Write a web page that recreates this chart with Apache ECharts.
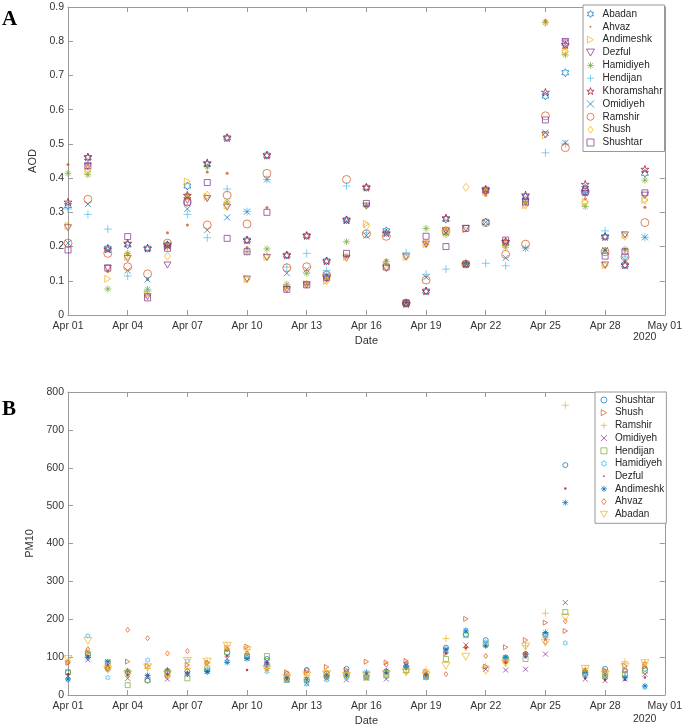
<!DOCTYPE html>
<html>
<head>
<meta charset="utf-8">
<script src="https://cdn.jsdelivr.net/npm/echarts@6/dist/echarts.min.js"></script>
<style>
  html, body { margin: 0; padding: 0; background: #fff; }
  #chart { width: 685px; height: 727px; }
</style>
</head>
<body>
<div id="chart"></div>
<script>
// day offsets from Apr 01 (x positions)
var days = [0,1,2,3,4,5,6,7,8,9,10,11,12,13,14,15,16,17,18,19,20,21,22,23,24,25,26,27,28,29];
var xTickLabels = ['Apr 01','Apr 04','Apr 07','Apr 10','Apr 13','Apr 16','Apr 19','Apr 22','Apr 25','Apr 28','May 01'];

// panel A - AOD
var aodAbadan      = [0.32,0.46,0.195,0.205,0.195,0.205,0.377,0.44,0.518,0.219,0.467,0.175,0.232,0.158,0.278,0.373,0.246,0.035,0.07,0.28,0.149,0.271,0.21,0.345,0.64,0.708,0.37,0.229,0.146,0.414];
var aodAhvaz       = [0.44,0.44,0.127,0.18,0.104,0.24,0.263,0.418,0.414,0.197,0.314,0.08,0.09,0.115,0.17,0.32,0.16,0.035,0.21,0.25,0.15,0.35,0.22,0.33,0.86,0.78,0.34,0.19,0.19,0.315];
var aodAndimeshk   = [0.26,0.42,0.106,0.17,0.06,0.2,0.39,0.345,0.32,0.105,0.17,0.08,0.09,0.1,0.17,0.266,0.145,0.17,0.207,0.246,0.25,0.36,0.21,0.321,0.525,0.77,0.33,0.146,0.234,0.336];
var aodDezful      = [0.255,0.435,0.137,0.165,0.054,0.146,0.335,0.34,0.315,0.105,0.168,0.075,0.088,0.105,0.166,0.318,0.136,0.17,0.207,0.246,0.253,0.36,0.21,0.33,0.526,0.799,0.355,0.146,0.234,0.35];
var aodHamidiyeh   = [0.414,0.41,0.076,0.18,0.075,0.2,0.35,0.433,0.33,0.185,0.193,0.09,0.122,0.11,0.214,0.32,0.156,0.035,0.253,0.235,0.149,0.365,0.198,0.33,0.855,0.76,0.317,0.188,0.192,0.394];
var aodHendijan    = [0.31,0.294,0.251,0.114,0.07,0.2,0.294,0.226,0.368,0.302,0.396,0.14,0.18,0.13,0.377,0.24,0.24,0.182,0.119,0.134,0.15,0.151,0.144,0.195,0.474,0.5,0.36,0.246,0.17,0.227];
var aodKhoramshahr = [0.33,0.462,0.193,0.21,0.195,0.205,0.35,0.445,0.518,0.219,0.467,0.175,0.232,0.158,0.278,0.373,0.24,0.033,0.07,0.284,0.149,0.368,0.215,0.351,0.651,0.79,0.382,0.229,0.146,0.426];
var aodOmidiyeh    = [0.21,0.324,0.19,0.13,0.104,0.2,0.31,0.248,0.285,0.302,0.396,0.122,0.133,0.117,0.275,0.232,0.24,0.035,0.11,0.24,0.149,0.271,0.167,0.195,0.533,0.503,0.355,0.19,0.16,0.227];
var aodRamshir     = [0.21,0.338,0.18,0.141,0.12,0.21,0.33,0.263,0.35,0.266,0.414,0.138,0.141,0.117,0.396,0.237,0.23,0.035,0.102,0.246,0.149,0.27,0.177,0.207,0.582,0.489,0.36,0.185,0.17,0.27];
var aodShush       = [0.26,0.425,0.137,0.17,0.06,0.172,0.34,0.35,0.32,0.105,0.17,0.08,0.09,0.1,0.17,0.26,0.14,0.17,0.207,0.245,0.373,0.36,0.21,0.321,0.855,0.77,0.33,0.146,0.23,0.336];
var aodShushtar    = [0.19,0.436,0.137,0.229,0.05,0.195,0.33,0.387,0.224,0.185,0.3,0.075,0.088,0.11,0.18,0.326,0.14,0.035,0.23,0.2,0.253,0.365,0.219,0.33,0.57,0.795,0.36,0.172,0.185,0.357];

// panel B - PM10
var pmShushtar  = [60,108,69,60,38,62,62,65,112,103,95,55,66,48,69,48,62,75,50,125,160,145,99,108,160,607,55,69,64,69];
var pmShush     = [85,112,73,88,77,52,79,85,123,128,82,60,60,74,66,88,86,90,62,110,201,75,126,145,191,169,62,65,77,75];
var pmRamshir   = [90,115,70,55,70,50,70,85,130,120,70,45,52,45,50,50,55,60,66,149,125,77,85,130,216,765,70,55,88,85];
var pmOmidiyeh  = [50,93,88,44,46,42,55,62,96,96,90,40,30,44,40,45,42,80,48,118,132,68,66,68,108,244,42,38,42,55];
var pmHendijan  = [60,105,85,26,40,58,44,70,112,102,103,40,40,55,55,46,52,65,48,95,158,135,95,95,158,219,58,49,55,64];
var pmHamidiyeh = [40,156,46,60,92,60,90,60,88,100,62,38,29,40,45,50,50,72,45,115,172,140,99,105,160,137,55,62,48,20];
var pmDezful    = [55,103,80,52,52,55,60,62,103,66,85,45,45,50,55,58,58,70,52,110,125,128,85,100,147,545,45,40,40,46];
var pmAndimeshk = [42,99,88,64,52,66,55,62,86,96,80,42,40,52,52,60,64,77,52,121,169,130,99,108,165,508,60,50,46,24];
var pmAhvaz     = [86,121,70,172,150,110,116,85,120,110,70,48,66,60,62,52,80,84,55,55,126,103,88,110,140,195,65,62,65,82];
var pmAbadan    = [95,143,67,55,73,55,90,88,130,118,69,44,52,55,50,52,55,60,52,77,101,64,84,128,138,205,69,55,75,84];

// matlab-like marker shapes
var SYM = {
    hex: 'path://M50,0L64.4,25L93.3,25L78.9,50L93.3,75L64.4,75L50,100L35.6,75L6.7,75L21.1,50L6.7,25L35.6,25Z',
    star: 'path://M50,0L61.2,34.5L97.6,34.5L68.2,55.9L79.4,90.5L50,69.1L20.6,90.5L31.8,55.9L2.4,34.5L38.8,34.5Z',
    tright: 'path://M0,0L87,50L0,100Z',
    tdown: 'path://M0,0L100,0L50,87Z',
    plus: 'path://M50,0L50,100M0,50L100,50',
    cross: 'path://M0,0L100,100M100,0L0,100',
    aster: 'path://M50,0L50,100M0,50L100,50M15,15L85,85M85,15L15,85',
    square: 'path://M0,0L100,0L100,100L0,100Z',
    diamond: 'path://M50,0L88,50L50,100L12,50Z',
    dotIcon: 'path://M0,0L0.01,0M100,100L100.01,100M50,36A14,14,0,1,1,50,64A14,14,0,1,1,50,36Z'
};
var C = ['#0072BD','#D95319','#EDB120','#7E2F8E','#77AC30','#4DBEEE','#A2142F'];
var PM = 'pm:';   // prefix keeps panel B legend entries apart from panel A

function mk(name, vals, sym, color, size, gi, filled) {
    return {
        name: name,
        type: 'scatter',
        xAxisIndex: gi * 2,
        yAxisIndex: gi * 2,
        data: days.map(function (d, i) { return [d, vals[i]]; }),
        symbol: sym,
        symbolSize: size,
        symbolKeepAspect: true,
        itemStyle: filled ? { color: color, borderWidth: 0 } :
            { color: 'rgba(0,0,0,0)', borderColor: color, borderWidth: 0.9 },
        emphasis: { disabled: true },
        silent: true
    };
}

var seriesA = [
    mk('Abadan', aodAbadan, SYM.hex, C[0], 8, 0),
    mk('Ahvaz', aodAhvaz, 'circle', C[1], 3, 0, true),
    mk('Andimeshk', aodAndimeshk, SYM.tright, C[2], 7, 0),
    mk('Dezful', aodDezful, SYM.tdown, C[3], 7, 0),
    mk('Hamidiyeh', aodHamidiyeh, SYM.aster, C[4], 7, 0),
    mk('Hendijan', aodHendijan, SYM.plus, C[5], 8, 0),
    mk('Khoramshahr', aodKhoramshahr, SYM.star, C[6], 8, 0),
    mk('Omidiyeh', aodOmidiyeh, SYM.cross, C[0], 6, 0),
    mk('Ramshir', aodRamshir, 'circle', C[1], 8, 0),
    mk('Shush', aodShush, SYM.diamond, C[2], 8, 0),
    mk('Shushtar', aodShushtar, SYM.square, C[3], 6, 0)
];
var seriesB = [
    mk(PM + 'Shushtar', pmShushtar, 'circle', C[0], 5, 1),
    mk(PM + 'Shush', pmShush, SYM.tright, C[1], 5, 1),
    mk(PM + 'Ramshir', pmRamshir, SYM.plus, C[2], 7, 1),
    mk(PM + 'Omidiyeh', pmOmidiyeh, SYM.cross, C[3], 5, 1),
    mk(PM + 'Hendijan', pmHendijan, SYM.square, C[4], 5, 1),
    mk(PM + 'Hamidiyeh', pmHamidiyeh, SYM.hex, C[5], 5, 1),
    mk(PM + 'Dezful', pmDezful, 'circle', C[6], 2.5, 1, true),
    mk(PM + 'Andimeshk', pmAndimeshk, SYM.aster, C[0], 6, 1),
    mk(PM + 'Ahvaz', pmAhvaz, SYM.diamond, C[1], 5, 1),
    mk(PM + 'Abadan', pmAbadan, SYM.tdown, C[2], 8, 1)
];

var axisCol = '#9a9a9a', textCol = '#333';
var font = 'Liberation Sans';

function xAx(gi, top) {
    return {
        type: 'value', gridIndex: gi, position: top ? 'top' : 'bottom',
        min: 0, max: 30, interval: 3,
        name: top ? '' : 'Date', nameLocation: 'middle', nameGap: 20,
        nameTextStyle: { color: textCol, fontSize: 11, fontFamily: font },
        axisLine: { show: true, onZero: false, lineStyle: { color: axisCol, width: 1 } },
        axisTick: { show: true, inside: true, length: 5, lineStyle: { color: axisCol } },
        axisLabel: {
            show: !top, margin: 6, color: textCol, fontSize: 10.5, fontFamily: font,
            formatter: function (v) { return xTickLabels[Math.round(v / 3)]; }
        },
        splitLine: { show: false }
    };
}
function yAx(gi, right, max, interval, name, nameGap) {
    return {
        type: 'value', gridIndex: gi, position: right ? 'right' : 'left',
        min: 0, max: max, interval: interval,
        name: right ? '' : name, nameLocation: 'middle', nameGap: nameGap,
        nameTextStyle: { color: textCol, fontSize: 11, fontFamily: font },
        axisLine: { show: true, onZero: false, lineStyle: { color: axisCol, width: 1 } },
        axisTick: { show: true, inside: true, length: 5, lineStyle: { color: axisCol } },
        axisLabel: { show: !right, margin: 4, color: textCol, fontSize: 10.5, fontFamily: font },
        splitLine: { show: false }
    };
}

function legendData(series, dotName) {
    return series.map(function (s) {
        var o = { name: s.name };
        if (s.name === dotName) o.icon = SYM.dotIcon;
        return o;
    });
}

var chart = echarts.init(document.getElementById('chart'), null, { renderer: 'canvas' });
chart.setOption({
    backgroundColor: '#fff',
    animation: false,
    textStyle: { fontFamily: font },
    grid: [
        { left: 68, top: 7, width: 599, height: 308 },
        { left: 68, top: 392, width: 599, height: 304 }
    ],
    xAxis: [xAx(0, false), xAx(0, true), xAx(1, false), xAx(1, true)],
    yAxis: [
        yAx(0, false, 0.9, 0.1, 'AOD', 21), yAx(0, true, 0.9, 0.1, '', 0),
        yAx(1, false, 800, 100, 'PM10', 23), yAx(1, true, 800, 100, '', 0)
    ],
    legend: [
        {
            left: 583, top: 5, orient: 'vertical',
            padding: [3, 2, 3, 3], itemGap: 0.85, itemWidth: 14, itemHeight: 7,
            borderColor: '#999', borderWidth: 1, backgroundColor: '#fff',
            itemStyle: { borderWidth: 0.9 },
            textStyle: { color: '#262626', fontSize: 10, lineHeight: 12, fontFamily: font },
            selectedMode: false,
            data: legendData(seriesA, 'Ahvaz')
        },
        {
            left: 595, top: 392, orient: 'vertical',
            padding: [2, 2, 3, 5], itemGap: 0.7, itemWidth: 12, itemHeight: 6,
            borderColor: '#999', borderWidth: 1, backgroundColor: '#fff',
            itemStyle: { borderWidth: 0.9 },
            textStyle: { color: '#262626', fontSize: 10, lineHeight: 12, fontFamily: font },
            selectedMode: false,
            formatter: function (n) { return n.slice(PM.length); },
            data: legendData(seriesB, PM + 'Dezful')
        }
    ],
    graphic: [
        { type: 'text', left: 2, top: 9, style: { text: 'A', font: 'bold 21px "Liberation Serif"', fill: '#000' } },
        { type: 'text', left: 2, top: 399, style: { text: 'B', font: 'bold 21px "Liberation Serif"', fill: '#000' } },
        { type: 'text', left: 633, top: 332, style: { text: '2020', font: '10.5px "Liberation Sans"', fill: textCol } },
        { type: 'text', left: 633, top: 714, style: { text: '2020', font: '10.5px "Liberation Sans"', fill: textCol } }
    ],
    series: seriesA.concat(seriesB)
});
</script>
</body>
</html>
